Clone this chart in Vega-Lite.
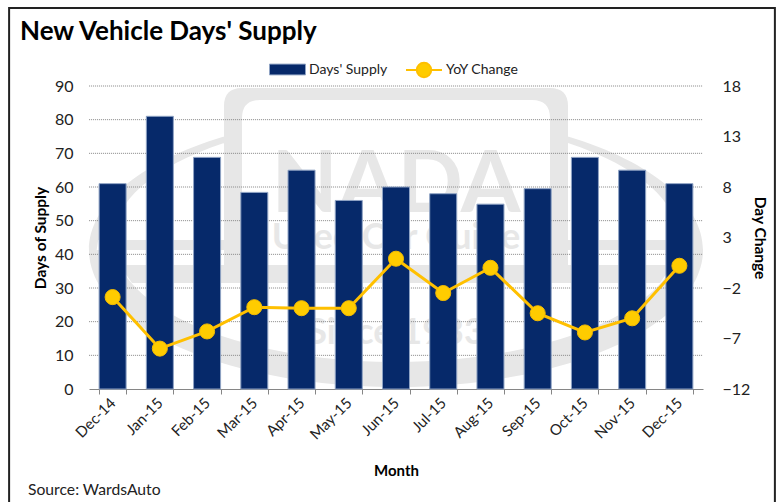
{
"$schema":"https://vega.github.io/schema/vega-lite/v6.json",
"width":614,"height":303,
"autosize":{"type":"none"},
"padding":{"left":89,"top":86,"right":78,"bottom":113},
"background":"white",
"title":{"text":"New Vehicle Days' Supply","anchor":"start","frame":"group","dx":-69,"offset":-38,"fontSize":26,"font":"Lato","fontWeight":"bold","color":"#000000"},
"config":{"view":{"stroke":null},"font":"Lato"},
"data":{"values":[
{"month":"Dec-14","supply":61,"yoy":-2.9},
{"month":"Jan-15","supply":81,"yoy":-8},
{"month":"Feb-15","supply":68.8,"yoy":-6.3},
{"month":"Mar-15","supply":58.4,"yoy":-3.9},
{"month":"Apr-15","supply":65,"yoy":-4},
{"month":"May-15","supply":56,"yoy":-4},
{"month":"Jun-15","supply":60,"yoy":0.9},
{"month":"Jul-15","supply":58,"yoy":-2.5},
{"month":"Aug-15","supply":54.9,"yoy":0},
{"month":"Sep-15","supply":59.5,"yoy":-4.5},
{"month":"Oct-15","supply":68.8,"yoy":-6.4},
{"month":"Nov-15","supply":65,"yoy":-5},
{"month":"Dec-15","supply":61,"yoy":0.2}
]},
"encoding":{"x":{"field":"month","type":"nominal","title":"Month",
"scale":{"domain":["Dec-14","Jan-15","Feb-15","Mar-15","Apr-15","May-15","Jun-15","Jul-15","Aug-15","Sep-15","Oct-15","Nov-15","Dec-15"],"paddingInner":0.428,"paddingOuter":0.214},
"axis":{"labelAngle":-45,"labelAlign":"right","labelBaseline":"middle","labelFontSize":15,"labelColor":"#222222","labelPadding":6,"tickBand":"extent","tickColor":"#868686","domainColor":"#868686","tickSize":5,"grid":false,"titleFontSize":15,"titleFontWeight":"bold","titleColor":"#000000","titlePadding":21}}},
"layer":[
{"data":{"values":[{"month":"Jun-15"}]},
"mark":{"type":"point","filled":true,"opacity":1,"size":376996,"color":"#E7E7E7",
"shape":"M-.5603,-.329A1,.4463 0 1 0 .5603,-.329L.5603,-.3078A.9218,.3974 0 1 1 -.5603,-.3078Z M-.5603,.1059V-.428Q-.5603,-.487 -.5017,-.487H.5017Q.5603,-.487 .5603,-.428V.1059H.5016V-.389Q.5016,-.4479 .443,-.4479H-.443Q-.5016,-.4479 -.5016,-.389V.1059Z M-.97,.0081H-.5603V.0407H-.975Z M.97,.0081H.5603V.0407H.975Z M-.9,.0896H.9L.86,.1482H-.86Z"},
"encoding":{"y":{"datum":45,"scale":{"domain":[0,90]},"axis":null}}},
{"data":{"values":[{"month":"Jun-15"}]},"mark":{"type":"text","text":"NADA","fontSize":86,"fontWeight":"bold","color":"#E7E7E7","baseline":"alphabetic","align":"center"},"encoding":{"y":{"datum":52.6,"scale":{"domain":[0,90]},"axis":null}}},
{"data":{"values":[{"month":"Jun-15"}]},"mark":{"type":"text","text":"Used Car Guide","fontSize":36,"fontWeight":"bold","color":"#E7E7E7","baseline":"middle","align":"center"},"encoding":{"y":{"datum":44.9,"scale":{"domain":[0,90]},"axis":null}}},
{"data":{"values":[{"month":"Jun-15"}]},"mark":{"type":"text","text":"Since 1933","fontSize":36,"fontWeight":"bold","color":"#E7E7E7","baseline":"middle","align":"center"},"encoding":{"y":{"datum":16.6,"scale":{"domain":[0,90]},"axis":null}}},
{"data":{"values":[{"g":10},{"g":20},{"g":30},{"g":40},{"g":50},{"g":60},{"g":70},{"g":80},{"g":90}]},
"mark":{"type":"rule","color":"#868686","strokeWidth":1,"strokeDash":[1,1],"xOffset":-10,"x2Offset":10},
"encoding":{"x":{"datum":"Dec-14","bandPosition":0,"title":"Month"},"x2":{"datum":"Dec-15","bandPosition":1},"y":{"field":"g","type":"quantitative","scale":{"domain":[0,90]},"axis":null}}},
{"mark":{"type":"bar","stroke":"#8FA3C4","strokeWidth":1},
"encoding":{
"y":{"field":"supply","type":"quantitative","title":"Days of Supply","scale":{"domain":[0,90],"nice":false},
"axis":{"orient":"left","values":[0,10,20,30,40,50,60,70,80,90],"grid":false,"domain":false,"ticks":false,"labelFontSize":16,"labelColor":"#222222","labelPadding":16,"titleFontSize":15.5,"titleFontWeight":"bold","titleColor":"#000000","titlePadding":6}},
"fill":{"datum":"Days' Supply","scale":{"domain":["Days' Supply"],"range":["#06296A"]},
"legend":{"title":null,"orient":"none","legendX":180,"legendY":-35,"symbolType":"M-1,-0.3H1V0.3H-1Z","symbolSize":1296,"symbolStrokeColor":"#8FA3C4","symbolStrokeWidth":1,"labelFontSize":14,"labelColor":"#222222","labelOffset":3,"padding":0}}}},
{"data":{"values":[{"month":"Dec-14"}]},
"mark":{"type":"text","text":"Source:  WardsAuto","fontSize":15.7,"color":"#222222","align":"left","baseline":"alphabetic","dx":-84.6},
"encoding":{"y":{"datum":-31.5,"scale":{"domain":[0,90]},"axis":null}}},
{"data":{"values":[{"a":1}]},
"mark":{"type":"rect","fill":null,"stroke":"#222222","strokeWidth":2,"xOffset":-90,"x2Offset":82,"clip":false},
"encoding":{"x":{"datum":"Dec-14","bandPosition":0,"title":"Month"},"x2":{"datum":"Dec-15","bandPosition":1},"y":{"datum":113.2,"scale":{"domain":[0,90]},"axis":null},"y2":{"datum":-36}}},
{"mark":{"type":"line","color":"#FFC000","strokeWidth":3},
"encoding":{
"y":{"field":"yoy","type":"quantitative","title":"Day Change","scale":{"domain":[-12,18],"nice":false},
"axis":{"orient":"right","values":[-12,-7,-2,3,8,13,18],"grid":false,"domain":false,"ticks":false,"labelFontSize":16,"labelColor":"#222222","labelPadding":19,"titleFontSize":15.5,"titleFontWeight":"bold","titleColor":"#000000","titlePadding":2}},
"stroke":{"datum":"YoY Change","scale":{"domain":["YoY Change"],"range":["#FFC000"]},
"legend":{"title":null,"orient":"none","legendX":316,"legendY":-35,"symbolType":"M-1,0H-0.4A0.4,0.4 0 1 1 0.4,0A0.4,0.4 0 1 1 -0.4,0M0.4,0H1","symbolSize":1296,"symbolFillColor":"#FFCC00","symbolStrokeWidth":2,"labelFontSize":14,"labelColor":"#222222","labelOffset":3,"padding":0}}}},
{"mark":{"type":"point","filled":true,"opacity":1,"size":227,"color":"#FFCC00","stroke":"#F5BC00","strokeWidth":1},
"encoding":{"y":{"field":"yoy","type":"quantitative","scale":{"domain":[-12,18],"nice":false},"axis":null}}}
],
"resolve":{"scale":{"y":"independent"},"axis":{"y":"independent"}}
}
